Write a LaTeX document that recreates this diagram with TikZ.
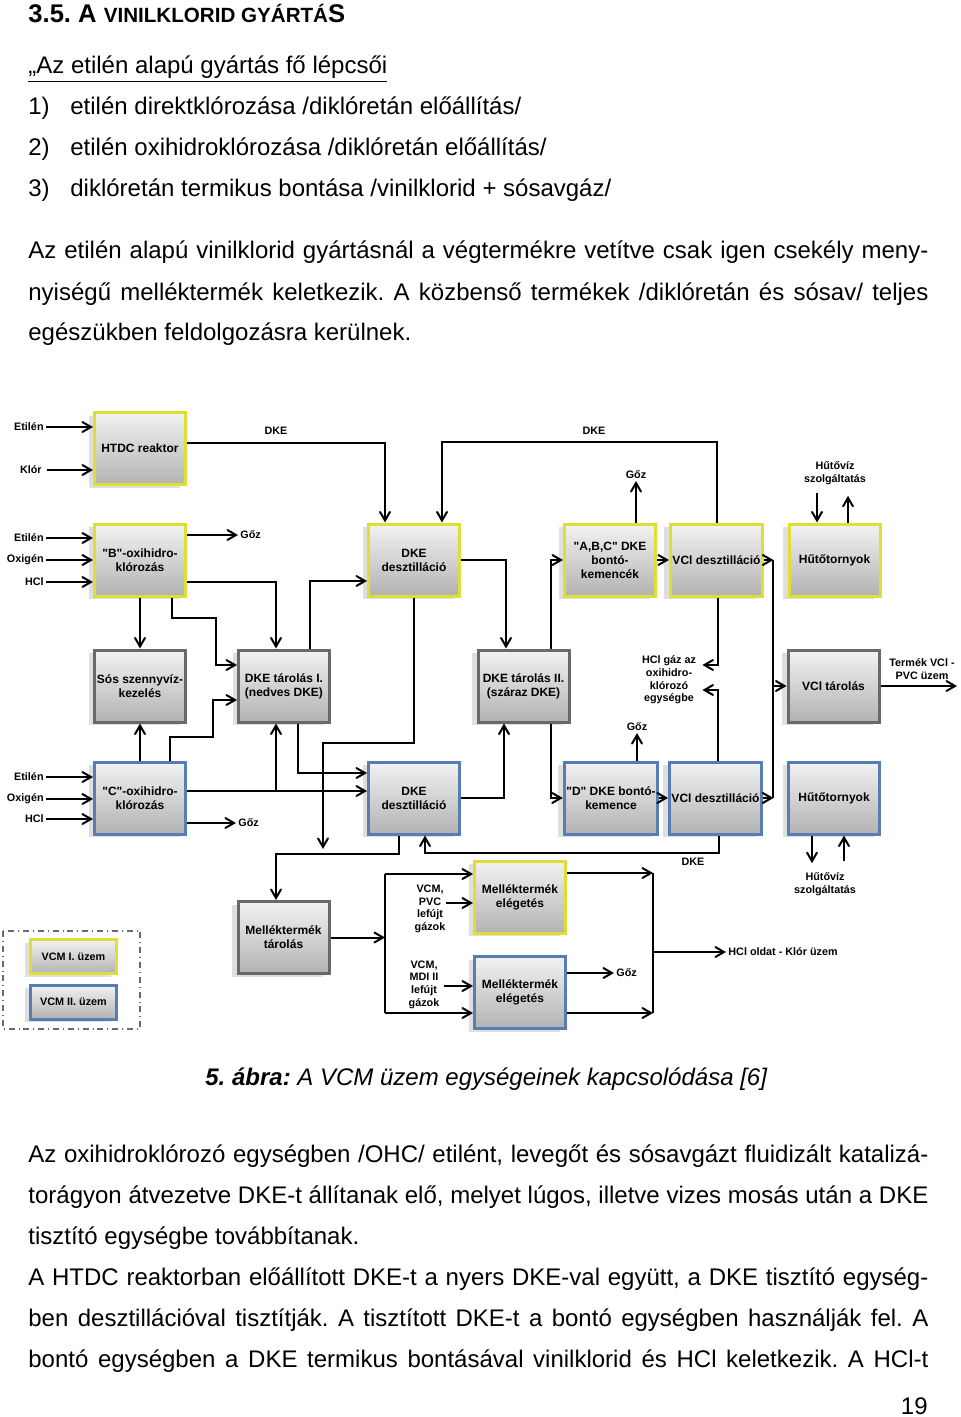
\documentclass[tikz,border=0pt]{standalone}
\usepackage{fontspec}
\setmainfont{Liberation Sans}[Ligatures=TeXOff]
\usetikzlibrary{arrows,shadows,calc}
\definecolor{vcmone}{RGB}{222,222,52}
\definecolor{vcmtwo}{RGB}{88,124,180}
\definecolor{common}{RGB}{105,105,105}
\frenchspacing

\begin{document}
\begin{tikzpicture}[x=0.5pt,y=-0.5pt,>=angle 60]
  \tikzstyle{bodytext}=[anchor=base west,inner sep=0pt,font=\fontsize{12}{20.5}\selectfont]
  \tikzstyle{plantbox}=[rectangle,line width=1.5pt,top color=black!5,bottom color=black!30,
                        minimum width=45.5pt,minimum height=36pt,inner sep=1pt,align=center,
                        font=\bfseries\fontsize{6}{7}\selectfont,
                        drop shadow={shadow xshift=-3pt,shadow yshift=-1.5pt,fill=black!35,opacity=.35}]
  \tikzstyle{legendbox}=[plantbox,minimum width=43pt,minimum height=17pt,
                         font=\bfseries\fontsize{5.4}{6.3}\selectfont]
  \tikzstyle{tag}=[inner sep=1pt,align=center,font=\bfseries\fontsize{5.4}{6.3}\selectfont]
  \tikzstyle{flow}=[->,line width=1pt]
  \tikzstyle{pipe}=[line width=1pt]

  \fill[white] (0,0) rectangle (960,1417);

  % page text above
  \node[bodytext,font=\bfseries\fontsize{12.8}{14}\selectfont] (title) at (28,23)
    {3.5. A {\fontsize{10.3}{12}\selectfont VINILKLORID GYÁRTÁ}S};
  \node[bodytext] (steps) at (28,74) {\underline{„Az etilén alapú gyártás fő lépcsői}};
  \node[bodytext] (n1) at (28,115) {1)};
  \node[bodytext] (s1) at (70,115) {etilén direktklórozása /diklóretán előállítás/};
  \node[bodytext] (n2) at (28,156) {2)};
  \node[bodytext] (s2) at (70,156) {etilén oxihidroklórozása /diklóretán előállítás/};
  \node[bodytext] (n3) at (28,197) {3)};
  \node[bodytext] (s3) at (70,197) {diklóretán termikus bontása /vinilklorid + sósavgáz/};
  \node[bodytext] (pa1) at (28,259) {\makebox[450pt][s]{Az etilén alapú vinilklorid gyártásnál a végtermékre vetítve csak igen csekély meny-}};
  \node[bodytext] (pa2) at (28,300) {\makebox[450pt][s]{nyiségű melléktermék keletkezik. A közbenső termékek /diklóretán és sósav/ teljes}};
  \node[bodytext] (pa3) at (28,341) {egészükben feldolgozásra kerülnek.};

  % VCM I. units
  \node[plantbox,draw=vcmone] (htdc) at (140,448.5) {HTDC reaktor};
  \node[plantbox,draw=vcmone] (oxib) at (140,560) {"B"-oxihidro-\\klórozás};
  \node[plantbox,draw=vcmone] (dist1) at (414,560) {DKE\\desztilláció};
  \node[plantbox,draw=vcmone] (crack1) at (610,560) {"A,B,C" DKE\\bontó-\\kemencék};
  \node[plantbox,draw=vcmone] (vcl1) at (716.5,560) {VCl desztilláció};
  \node[plantbox,draw=vcmone] (cool1) at (834.5,560) {Hűtőtornyok};
  % common units
  \node[plantbox,draw=common] (brine) at (140,686) {Sós szennyvíz-\\kezelés};
  \node[plantbox,draw=common] (wet) at (284,686) {DKE tárolás I.\\(nedves DKE)};
  \node[plantbox,draw=common] (dry) at (523.5,686) {DKE tárolás II.\\(száraz DKE)};
  \node[plantbox,draw=common] (vclstore) at (833.5,686) {VCl tárolás};
  % VCM II. units
  \node[plantbox,draw=vcmtwo] (oxic) at (140,798) {"C"-oxihidro-\\klórozás};
  \node[plantbox,draw=vcmtwo] (dist2) at (414,798) {DKE\\desztilláció};
  \node[plantbox,draw=vcmtwo] (crack2) at (611,798) {"D" DKE bontó-\\kemence};
  \node[plantbox,draw=vcmtwo] (vcl2) at (715.5,798) {VCl desztilláció};
  \node[plantbox,draw=vcmtwo] (cool2) at (834,798) {Hűtőtornyok};
  % by-products
  \node[plantbox,draw=common] (bystore) at (283.5,937.5) {Melléktermék\\tárolás};
  \node[plantbox,draw=vcmone] (burn1) at (520,897) {Melléktermék\\elégetés};
  \node[plantbox,draw=vcmtwo] (burn2) at (520,992.5) {Melléktermék\\elégetés};

  % legend
  \draw[dash dot,common,line width=.6pt] (3,931) rectangle (140,1029);
  \node[legendbox,draw=vcmone] (legone) at (73.5,956.5) {VCM I. üzem};
  \node[legendbox,draw=vcmtwo] (legtwo) at (73.5,1002) {VCM II. üzem};

  % labels
  \node[tag,anchor=east] (eth0) at (46,427) {Etilén};
  \node[tag,anchor=east] (chl0) at (44,470) {Klór};
  \node[tag] (dketop1) at (276,431) {DKE};
  \node[tag] (dketop2) at (594,431) {DKE};
  \node[tag,anchor=west] (gozb) at (238,535) {Gőz};
  \node[tag,anchor=south] (gozabc) at (636,481) {Gőz};
  \node[tag] (water1) at (835,473) {Hűtővíz\\szolgáltatás};
  \node[tag] (hclgas) at (669,680) {HCl gáz az\\oxihidro-\\klórozó\\egységbe};
  \node[tag] (product) at (922,669) {Termék VCl -\\PVC üzem};
  \node[tag,anchor=south] (gozd) at (637,733) {Gőz};
  \node[tag,anchor=west] (gozc) at (236,823) {Gőz};
  \node[tag] (dkeback) at (693,862) {DKE};
  \node[tag] (water2) at (825,884) {Hűtővíz\\szolgáltatás};
  \node[tag] (vent1) at (430,909) {VCM,\\PVC\\lefújt\\gázok};
  \node[tag] (vent2) at (424,984.5) {VCM,\\MDI II\\lefújt\\gázok};
  \node[tag,anchor=west] (gozburn) at (614,973) {Gőz};
  \node[tag,anchor=west] (hclsol) at (726,952) {HCl oldat - Klór üzem};

  % feeds
  \draw[flow] (eth0.east) -- (eth0.east -| htdc.west);
  \draw[flow] ($(chl0.east)+(3,0)$) -- (chl0.east -| htdc.west);
  \foreach \feed/\dy [count=\i] in {Etilén/-22,Oxigén/0,HCl/22} {
    \node[tag,anchor=east] (inb\i) at ($(oxib.west)+(-47,\dy)$) {\feed};
    \draw[flow] (inb\i.east) -- (inb\i.east -| oxib.west);
  }
  \foreach \feed/\dy [count=\i] in {Etilén/-21,Oxigén/1,HCl/21} {
    \node[tag,anchor=east] (inc\i) at ($(oxic.west)+(-47,\dy)$) {\feed};
    \draw[flow] (inc\i.east) -- (inc\i.east -| oxic.west);
  }

  % VCM I. flows
  \draw[flow] ($(htdc.east)+(0,-5.5)$) -| ($(dist1.north)+(-29,0)$);
  \draw[flow] (vcl1.north) -- ++(0,-81) -| ($(dist1.north)+(28,0)$);
  \draw[flow] ($(oxib.east)+(0,-25)$) -- (gozb.west);
  \draw[flow] ($(oxib.east)+(0,22)$) -| ($(wet.north)+(-8,0)$);
  \draw[flow] (oxib.south) -- (brine.north);
  \draw[flow] ($(oxib.south)+(32,0)$) -- ++(0,20) -| ($(wet.west)+(-21,-21)$) -- ($(wet.west)+(0,-21)$);
  \draw[flow] ($(wet.north)+(26,0)$) |- ($(dist1.west)+(0,21)$);
  \draw[flow] (dist1.east) -| ($(dry.north)+(-17.5,0)$);
  \draw[flow] ($(dry.north)+(27.5,0)$) |- (crack1.west);
  \coordinate (drain) at (323,849);
  \draw[flow] (dist1.south) -- ++(0,145) -| (drain);
  \draw[flow] (crack1.east) -- (vcl1.west);
  \draw[flow] ($(crack1.north)+(26,0)$) -- (gozabc.south);
  \draw[flow] ($(water1.south)+(-18,6)$) -- ($(cool1.north)+(-17.5,0)$);
  \draw[flow] ($(cool1.north)+(13.5,0)$) -- ($(water1.south)+(13,9)$);
  \draw[flow] ($(vcl1.south)+(1.5,0)$) |- ($(hclgas.east)+(4,-15)$);

  % VCl collecting line
  \coordinate (bus) at ($(vcl1.east)!.4!(cool1.west)$);
  \draw[flow] (vcl1.east) -- (bus);
  \draw[pipe] (bus) -- (bus |- vcl2.east);
  \draw[flow] (vcl2.east) -- (vcl2.east -| bus);
  \draw[flow] (bus |- vclstore.west) -- (vclstore.west);
  \draw[flow] (vclstore.east) -- (product.east |- vclstore.east);

  % VCM II. flows
  \draw[flow] ($(oxic.east)+(0,25)$) -- (gozc.west);
  \draw[flow] (oxic.north) -- (brine.south);
  \draw[flow] ($(oxic.north)+(30,0)$) -- ++(0,-24) -| ($(wet.west)+(-24,14)$) -- ($(wet.west)+(0,14)$);
  \draw[flow] ($(oxic.east)+(0,-7)$) -- ($(dist2.west)+(0,-7)$);
  \draw[flow] ($(wet.south)+(-8,68)$) -- ($(wet.south)+(-8,0)$);
  \draw[flow] ($(wet.south)+(14,0)$) |- ($(dist2.west)+(0,-25)$);
  \draw[flow] (dist2.east) -| ($(dry.south)+(-19.5,0)$);
  \draw[flow] ($(dry.south)+(27.5,0)$) |- (crack2.west);
  \draw[flow] (crack2.east) -- (vcl2.west);
  \draw[flow] ($(crack2.north)+(26,0)$) -- (gozd.south);
  \draw[flow] ($(vcl2.north)+(2.5,0)$) |- ($(hclgas.east)+(4,10)$);
  \draw[flow] ($(vcl2.south)+(3.5,0)$) -- ++(0,17) -| ($(dist2.south)+(11,0)$);
  \draw[flow] ($(dist2.south)+(-15,0)$) -- ++(0,18) -| ($(bystore.north)+(-7.5,0)$);
  \draw[flow] ($(cool2.south)+(-22,0)$) -- ($(water2.north)+(-13,-7)$);
  \draw[flow] ($(water2.north)+(19,-9)$) -- ($(cool2.south)+(10,0)$);

  % by-product handling
  \coordinate (fork1) at ($(burn1.west)+(-88,-23)$);
  \coordinate (fork2) at ($(burn2.west)+(-88,20.5)$);
  \draw[flow] (bystore.east) -- (bystore.east -| fork1);
  \draw[pipe] (fork1) -- (fork2);
  \draw[flow] (fork1) -- (fork1 -| burn1.west);
  \draw[flow] (fork2) -- (fork2 -| burn2.west);
  \draw[flow] ($(vent1.east)+(-2,-6)$) -- ($(burn1.west)+(0,6)$);
  \draw[flow] ($(vent2.east)+(2,1.5)$) -- ($(burn2.west)+(0,-6.5)$);
  \coordinate (join1) at ($(burn1.east)+(86,-24)$);
  \coordinate (join2) at ($(burn2.east)+(86,20.5)$);
  \draw[flow] ($(burn1.east)+(0,-24)$) -- (join1);
  \draw[flow] ($(burn2.east)+(0,20.5)$) -- (join2);
  \draw[pipe] (join1) -- (join2);
  \draw[flow] (join1 |- hclsol.west) -- (hclsol.west);
  \draw[flow] ($(burn2.east)+(0,-19.5)$) -- (gozburn.west);

  % page text below
  \node[bodytext] (caption) at (205,1085) {\textbf{\textit{5. ábra:}} \textit{A VCM üzem egységeinek kapcsolódása [6]}};
  \node[bodytext] (pb1) at (28,1162) {\makebox[450pt][s]{Az oxihidroklórozó egységben /OHC/ etilént, levegőt és sósavgázt fluidizált katalizá-}};
  \node[bodytext] (pb2) at (28,1203) {\makebox[450pt][s]{torágyon átvezetve DKE-t állítanak elő, melyet lúgos, illetve vizes mosás után a DKE}};
  \node[bodytext] (pb3) at (28,1244) {tisztító egységbe továbbítanak.};
  \node[bodytext] (pb4) at (28,1285) {\makebox[450pt][s]{A HTDC reaktorban előállított DKE-t a nyers DKE-val együtt, a DKE tisztító egység-}};
  \node[bodytext] (pb5) at (28,1326) {\makebox[450pt][s]{ben desztillációval tisztítják. A tisztított DKE-t a bontó egységben használják fel. A}};
  \node[bodytext] (pb6) at (28,1367) {\makebox[450pt][s]{bontó egységben a DKE termikus bontásával vinilklorid és HCl keletkezik. A HCl-t}};
  \node[bodytext,anchor=base east] (pageno) at (928,1414) {19};
\end{tikzpicture}
\end{document}
